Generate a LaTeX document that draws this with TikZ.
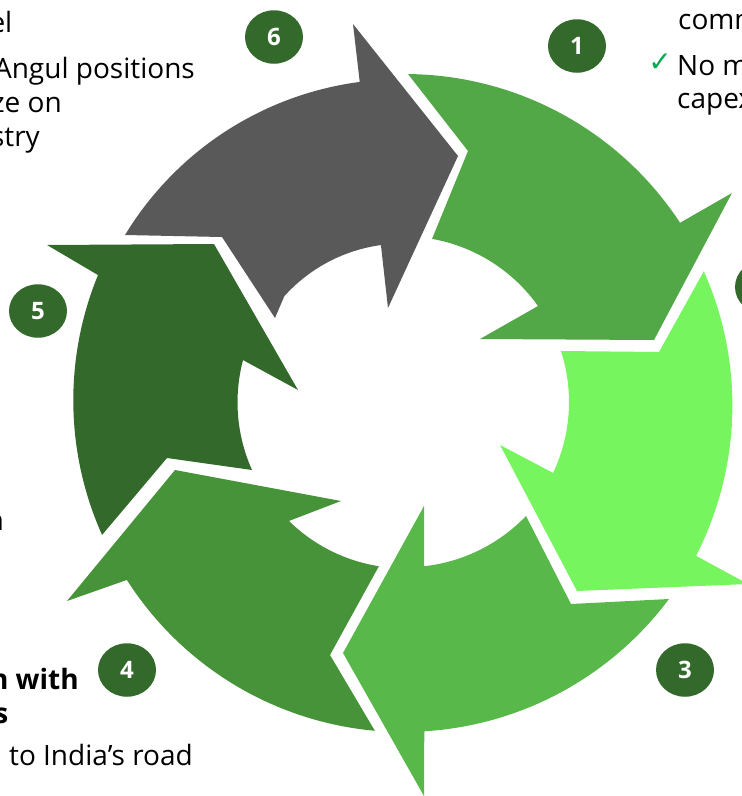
\documentclass[tikz,border=0pt]{standalone}
\usepackage{fontspec}
\setmainfont{Open Sans}
\newfontfamily\symfont{DejaVu Sans}
\usetikzlibrary{shapes.geometric}
\definecolor{sA}{RGB}{82,168,70}
\definecolor{sB}{RGB}{118,245,94}
\definecolor{sC}{RGB}{88,184,73}
\definecolor{sD}{RGB}{71,147,57}
\definecolor{sE}{RGB}{51,105,43}
\definecolor{sF}{RGB}{89,89,89}
\definecolor{dkgreen}{RGB}{51,105,43}
\definecolor{tick}{RGB}{0,170,80}
\begin{document}
\begin{tikzpicture}[x=1pt,y=-1pt,
  numcirc/.style={ellipse, fill=dkgreen, minimum width=58pt, minimum height=53.5pt, inner sep=0pt, text=white, font=\fontsize{24}{24}\bfseries\selectfont},
  txt/.style={inner sep=0pt, text=black, font=\fontsize{28}{33}\selectfont},
  btxt/.style={inner sep=0pt, text=black, font=\fontsize{28}{33}\bfseries\selectfont}]
\useasboundingbox (0,0) rectangle (742,796);
\clip (0,0) rectangle (742,796);

% segment 1
\fill[sA] (408,74) -- (468,151) -- (432,239)
  -- plot[domain=0:1,samples=40,variable=\s] ({403+165.7*cos(-79.9+44.5*\s)},{402+165.7*sin(-79.9+44.5*\s)})
  -- (480,339) -- (654,340) -- (732,193)
  -- plot[domain=0:1,samples=40,variable=\s] ({403+(330-2*\s)*cos(-32.9-56.2*\s)},{402+(330-2*\s)*sin(-32.9-56.2*\s)})
  -- cycle;
% segment 2
\fill[sB] (704,271) -- (659,352) -- (561,351)
  -- plot[domain=0:1,samples=40,variable=\s] ({403+166*cos(-17.9+43.2*\s)},{402+166*sin(-17.9+43.2*\s)})
  -- (500,445) -- (577,591) -- (748,584)
  -- plot[domain=0:1,samples=40,variable=\s] ({403+(331-3*\s)*cos(27.7-51.2*\s)},{402+(331-3*\s)*sin(27.7-51.2*\s)})
  -- cycle;
% segment 3
\fill[sC] (669,599) -- (571,604) -- (526,516)
  -- plot[domain=0:1,samples=40,variable=\s] ({403+(167.7-2.1*\s)*cos(42.8+39.9*\s)},{402+(167.7-2.1*\s)*sin(42.8+39.9*\s)})
  -- (424,506) -- (343,653) -- (424,796)
  -- plot[domain=0:1,samples=40,variable=\s] ({403+(330+1*\s)*cos(86.3-49.8*\s)},{402+(330+1*\s)*sin(86.3-49.8*\s)})
  -- cycle;
% segment 4
\fill[sD] (375,731) -- (330,655) -- (379,566)
  -- plot[domain=0:1,samples=40,variable=\s] ({403+(166-1.2*\s)*cos(98.3+35.5*\s)},{402+(166-1.2*\s)*sin(98.3+35.5*\s)})
  -- (341,501) -- (175,470) -- (67,601)
  -- plot[domain=0:1,samples=40,variable=\s] ({403+(328.5+1.5*\s)*cos(147.2-52.3*\s)},{402+(328.5+1.5*\s)*sin(147.2-52.3*\s)})
  -- cycle;
% segment 5
\fill[sE] (102,535) -- (167,458) -- (252,470)
  -- plot[domain=0:1,samples=40,variable=\s] ({403+(165.6-0.2*\s)*cos(155.8+38.9*\s)},{402+(165.6-0.2*\s)*sin(155.8+38.9*\s)})
  -- (298,390) -- (214,244) -- (47,245)
  -- plot[domain=0:1,samples=40,variable=\s] ({403+(330.4-1.4*\s)*cos(202.6-46.4*\s)},{402+(330.4-1.4*\s)*sin(202.6-46.4*\s)})
  -- cycle;
% segment 6
\fill[sF] (125,235) -- (222,237) -- (275,318)
  -- plot[domain=0:1,samples=40,variable=\s] ({403+(159-0.5*\s)*cos(221.7+40.3*\s)},{402+(159-0.5*\s)*sin(221.7+40.3*\s)})
  -- (388,308) -- (458,156) -- (353,24)
  -- plot[domain=0:1,samples=40,variable=\s] ({403+(323+1.3*\s)*cos(262.3-51.3*\s)},{402+(323+1.3*\s)*sin(262.3-51.3*\s)})
  -- cycle;

% number badges
\node[numcirc] (n1) at (577,46) {1};
\node[numcirc] (n2) at (764,287) {2};
\node[numcirc] (n3) at (685,670) {3};
\node[numcirc] (n4) at (127,670) {4};
\node[numcirc] (n5) at (38,311) {5};
\node[numcirc] (n6) at (274,37) {6};

% text, top left
\node[txt, anchor=base east] (tA) at (12.5,32) {el};
\node[txt, anchor=base east] (tB) at (195,78) {Angul positions};
\node[txt, anchor=base east] (tC) at (62,112) {ze on};
\node[txt, anchor=base east] (tD) at (40,146) {stry};

% text, top right
\node[txt, anchor=base west] (tE) at (678,29) {comm};
\node[inner sep=0pt, text=tick, font=\symfont\fontsize{28}{28}\selectfont] (ck) at (660,63) {✓};
\node[txt, anchor=base west] (tF) at (677,75) {No major};
\node[txt, anchor=base west] (tG) at (677,108) {capex};

% text, bottom left
\node[btxt, anchor=base east] (tH) at (4,530) {n};
\node[btxt, anchor=base east] (tI) at (79,689) {n with};
\node[btxt, anchor=base east] (tJ) at (8.5,723) {s};
\node[txt, anchor=base east] (tK) at (193,765) {to India’s road};
\end{tikzpicture}
\end{document}
